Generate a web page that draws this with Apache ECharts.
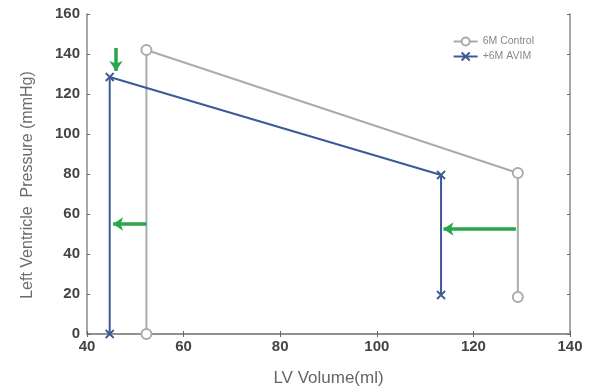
<!DOCTYPE html>
<html>
<head>
<meta charset="utf-8">
<script src="https://cdn.jsdelivr.net/npm/echarts@6/dist/echarts.min.js"></script>
<style>html,body{margin:0;padding:0;background:#fff}#c{width:601px;height:392px}</style>
</head>
<body>
<div id="c"></div>
<script>
var controlVolume = [52.3, 52.3, 129.2, 129.2];
var controlPressure = [0, 142, 80.5, 18.5];
var avimVolume = [44.7, 44.7, 113.3, 113.3];
var avimPressure = [0, 128.5, 79.5, 19.5];
// arrows: [fromVol, fromP] -> [toVol, toP]
var arrowFrom = [[46, 143], [52.3, 55], [128.8, 52.5]];
var arrowTo = [[46, 131.5], [45.4, 55], [113.8, 52.5]];
var xTicks = [40, 60, 80, 100, 120, 140];
var yTicks = [0, 20, 40, 60, 80, 100, 120, 140, 160];

function pairs(xs, ys){ return xs.map(function(v,i){ return [v, ys[i]]; }); }

var frame = '#8a8a8a';
var gray = '#ababab';
var blue = '#3c5a98';
var green = '#2aa54a';
var cross = 'path://M0,0L10,10M10,0L0,10';

var chart = echarts.init(document.getElementById('c'));
var axisCommon = {
  axisLine: {show: true, lineStyle: {color: frame, width: 1.5}},
  axisTick: {show: true, inside: true, length: 3, lineStyle: {color: '#666'}},
  splitLine: {show: false}
};
chart.setOption({
  animation: false,
  grid: {left: 87, right: 31, top: 14, bottom: 58},
  legend: {
    right: 62, top: 31, orient: 'vertical', itemGap: 4,
    itemWidth: 24, itemHeight: 10,
    textStyle: {fontSize: 10.5, color: '#888', fontFamily: 'Arial, Liberation Sans'},
    data: ['6M Control', '+6M AVIM']
  },
  xAxis: [
    Object.assign({}, axisCommon, {
      type: 'value', min: xTicks[0], max: xTicks[xTicks.length-1], interval: 20,
      name: 'LV Volume(ml)', nameLocation: 'middle', nameGap: 36,
      nameTextStyle: {fontSize: 17, color: '#666', fontFamily: 'Liberation Sans'},
      axisLabel: {fontSize: 15, fontWeight: 'bold', color: '#444', margin: 5, fontFamily: 'Liberation Sans'}
    }),
    Object.assign({}, axisCommon, {
      type: 'value', position: 'top', min: xTicks[0], max: xTicks[xTicks.length-1], interval: 20,
      axisLabel: {show: false}
    })
  ],
  yAxis: [
    Object.assign({}, axisCommon, {
      type: 'value', min: yTicks[0], max: yTicks[yTicks.length-1], interval: 20,
      name: 'Left Ventricle  Pressure (mmHg)', nameLocation: 'middle', nameGap: 51,
      nameTextStyle: {fontSize: 16, color: '#6b6b6b', fontFamily: 'Liberation Sans', padding: [0, 22, 0, 0]},
      axisLabel: {fontSize: 15, fontWeight: 'bold', color: '#444', margin: 7, fontFamily: 'Liberation Sans'}
    }),
    Object.assign({}, axisCommon, {
      type: 'value', position: 'right', min: yTicks[0], max: yTicks[yTicks.length-1], interval: 20,
      axisLabel: {show: false}
    })
  ],
  series: [
    {
      name: '6M Control', type: 'line', data: pairs(controlVolume, controlPressure),
      symbol: 'emptyCircle', symbolSize: 10, showAllSymbol: true,
      lineStyle: {color: gray, width: 2},
      itemStyle: {color: gray, borderColor: gray, borderWidth: 1.5},
      z: 2
    },
    {
      name: '+6M AVIM', type: 'line', data: pairs(avimVolume, avimPressure),
      symbol: cross, symbolSize: 8, showAllSymbol: true,
      lineStyle: {color: blue, width: 2},
      itemStyle: {color: blue, borderColor: blue, borderWidth: 1.8},
      z: 3
    },
    {
      type: 'lines', coordinateSystem: 'cartesian2d',
      symbol: ['none', 'arrow'], symbolSize: [0, 10],
      lineStyle: {color: green, width: 3.5, opacity: 1},
      data: arrowFrom.map(function(f, i){ return {coords: [f, arrowTo[i]]}; }),
      z: 4
    }
  ]
});
</script>
</body>
</html>
